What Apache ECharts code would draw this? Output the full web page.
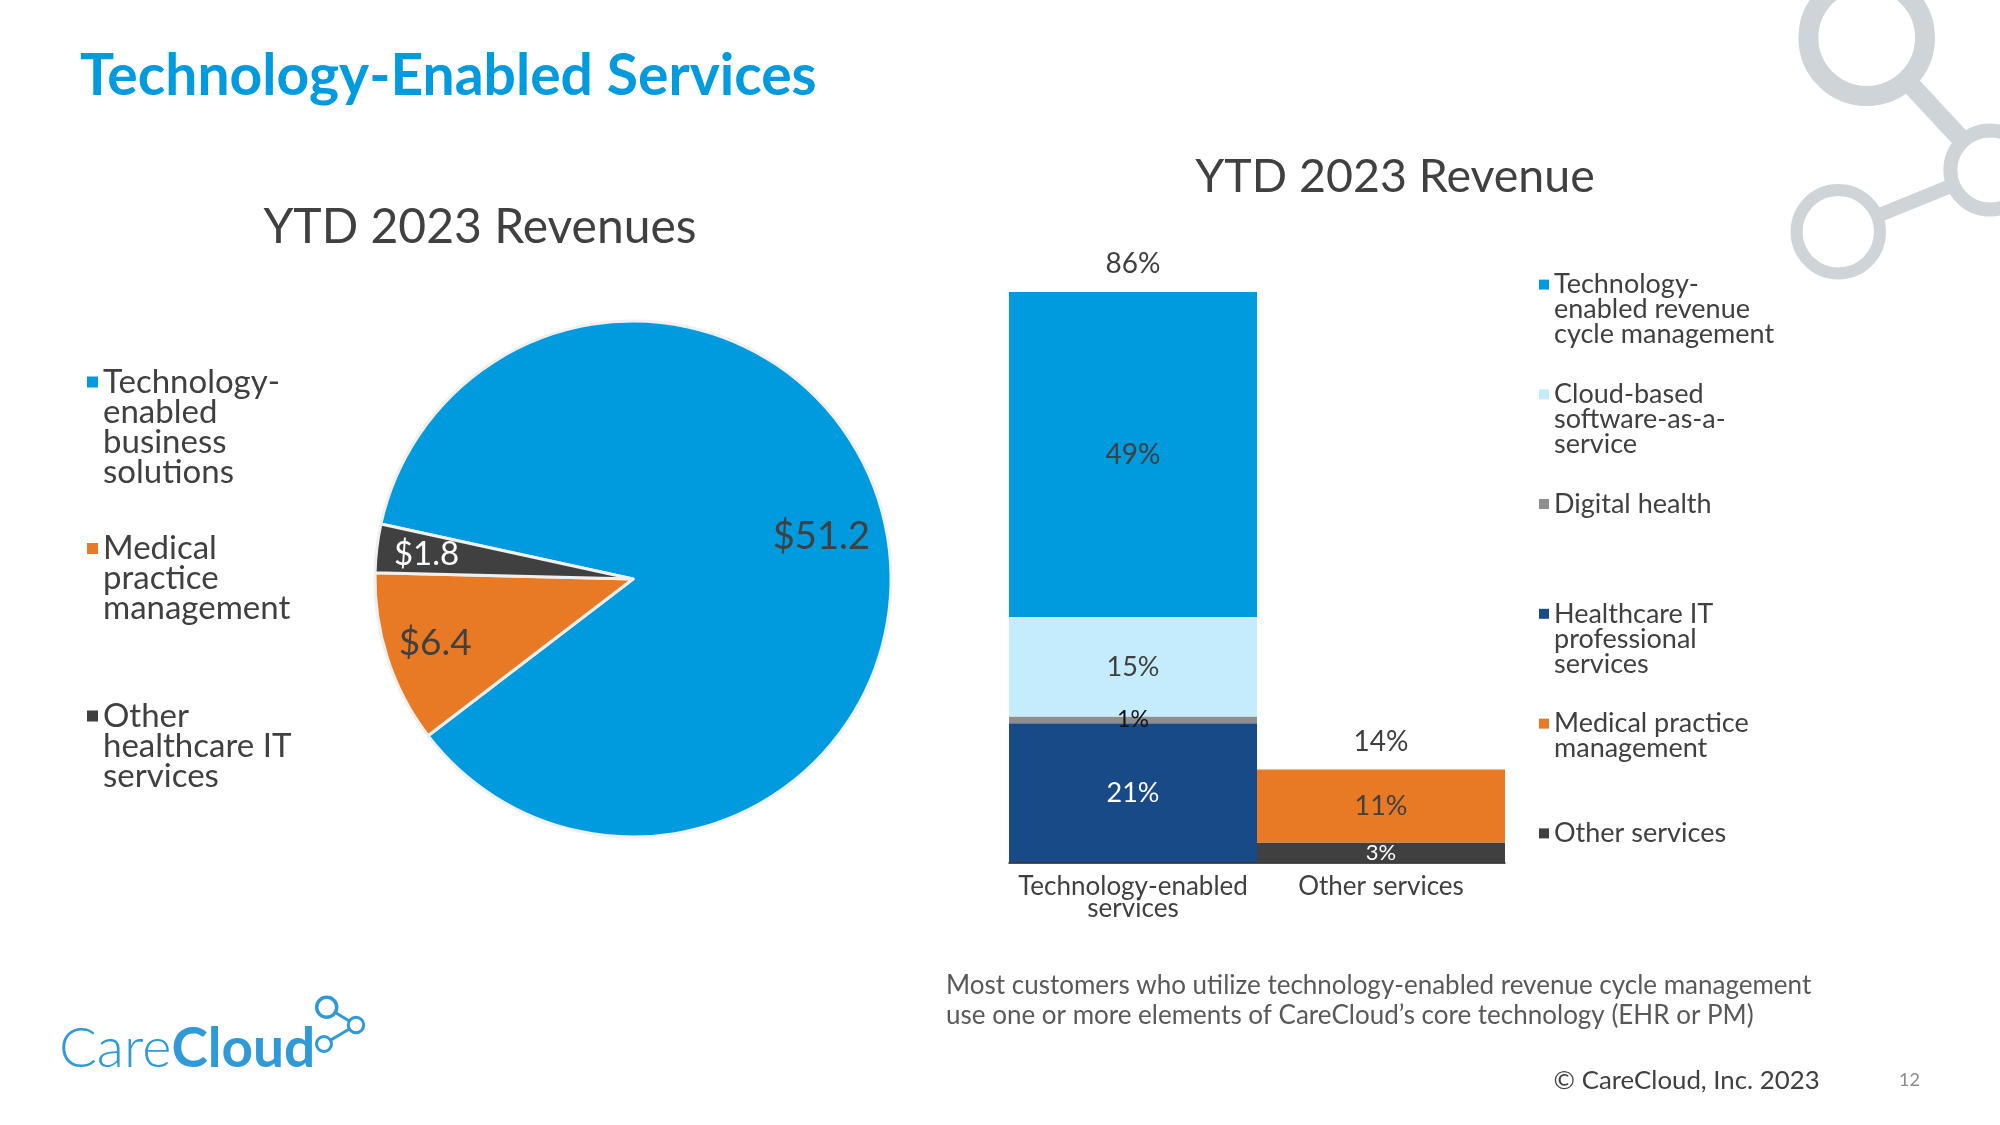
<!DOCTYPE html>
<html><head><meta charset="utf-8">
<script src="https://cdn.jsdelivr.net/npm/echarts@6/dist/echarts.min.js"></script>
<style>html,body{margin:0;padding:0;background:#fff}#c{width:2000px;height:1125px}</style>
</head><body><div id="c"></div>
<script>
// ---------------- DATA ----------------
const pieCategories = ['Technology-enabled business solutions', 'Medical practice management', 'Other healthcare IT services'];
const pieValues = [51.2, 6.4, 1.8];
const pieLegendLines = [['Technology-', 'enabled', 'business', 'solutions'], ['Medical', 'practice', 'management'], ['Other', 'healthcare IT', 'services']];

const barCategories = ['Technology-enabled\nservices', 'Other services'];
const barSeriesNames = ['Technology-enabled revenue cycle management', 'Cloud-based software-as-a-service', 'Digital health', 'Healthcare IT professional services', 'Medical practice management', 'Other services'];
const barLegendLines = [['Technology-', 'enabled revenue', 'cycle management'], ['Cloud-based', 'software-as-a-', 'service'], ['Digital health'], ['Healthcare IT', 'professional', 'services'], ['Medical practice', 'management'], ['Other services']];
const rcmValues = [49, null];
const cloudValues = [15, null];
const digitalValues = [1, null];
const hitValues = [21, null];
const medicalValues = [null, 11];
const otherValues = [null, 3];
const barTotals = [86, 14];

// ---------------- STYLE ----------------
const FONT = 'Lato';
const DARK = '#404040';
const pieColors = ['#009BDE', '#E87A25', '#404040'];
const pieLabelColors = ['#404040', '#404040', '#ffffff'];
const pieLabelSizes = [38, 37, 33];
const barStyle = {
  'Technology-enabled revenue cycle management': { color: '#009BDE', label: '#404040', size: 28 },
  'Cloud-based software-as-a-service': { color: '#C4ECFC', label: '#404040', size: 27 },
  'Digital health': { color: '#8E8E8E', label: '#111111', size: 23 },
  'Healthcare IT professional services': { color: '#174A86', label: '#ffffff', size: 27 },
  'Medical practice management': { color: '#E87A25', label: '#404040', size: 27 },
  'Other services': { color: '#404040', label: '#ffffff', size: 22 }
};

const chart = echarts.init(document.getElementById('c'));

// stack order bottom -> top
const stackOrder = [
  [barSeriesNames[3], hitValues],
  [barSeriesNames[2], digitalValues],
  [barSeriesNames[1], cloudValues],
  [barSeriesNames[0], rcmValues],
  [barSeriesNames[5], otherValues],
  [barSeriesNames[4], medicalValues]
];

const barSeries = stackOrder.map(([name, vals]) => ({
  type: 'bar', name, stack: 'rev', data: vals,
  barWidth: '100%', barGap: '-100%',
  itemStyle: { color: barStyle[name].color },
  label: {
    show: true, position: 'inside', formatter: p => p.value + '%',
    color: barStyle[name].label, fontFamily: FONT, fontSize: barStyle[name].size, lineHeight: barStyle[name].size
  },
  emphasis: { disabled: true }, silent: true, z: 2
}));

barSeries.push({
  type: 'bar', name: 'Total', data: barTotals,
  barWidth: '100%', barGap: '-100%',
  itemStyle: { color: 'rgba(0,0,0,0)' },
  label: {
    show: true, position: 'top', distance: 14, formatter: p => p.value + '%',
    color: DARK, fontFamily: FONT, fontSize: 28, lineHeight: 28
  },
  emphasis: { disabled: true }, silent: true, z: 1
});

// Each legend item is its own legend so the icon sits beside the first text line:
// blank lines are put before the text so that the first real line is centred on the icon.
function legendFor(name, lines, color, left, y1, lh, size, icon) {
  const n = lines.length;
  const pad = new Array(n - 1).fill(' ');
  return {
    data: [{ name, itemStyle: { color, borderWidth: 0 } }],
    left, top: y1 - (2 * n - 1) * lh / 2,
    orient: 'vertical', padding: 0, itemWidth: icon, itemHeight: icon, icon: 'rect',
    selectedMode: false,
    formatter: () => pad.concat(lines).join('\n'),
    textStyle: { fontFamily: FONT, fontSize: size, lineHeight: lh, color: DARK }
  };
}

const pieLegendY = [380.5, 547, 714.5];
const barLegendY = [283.6, 393.3, 503, 612.8, 722.6, 832.4];
const legends = [];
pieCategories.forEach((n, i) => legends.push(legendFor(n, pieLegendLines[i], pieColors[i], 87, pieLegendY[i], 30, 33, 11)));
barSeriesNames.forEach((n, i) => legends.push(legendFor(n, barLegendLines[i], barStyle[n].color, 1539, barLegendY[i], 25, 27, 10)));

// decorative molecule graphics
const ringColor = '#CED4D7';
const bigRings = [{ cx: 1866.7, cy: 37.7, r: 58.3, w: 20 }, { cx: 1990, cy: 170, r: 39.6, w: 14 }, { cx: 1838.3, cy: 231.7, r: 41.7, w: 12 }];
const bigLinks = [[0, 1, 19], [2, 1, 14]];
const logoColor = '#2F9AD7';
const logoRings = [{ cx: 326.7, cy: 1007.3, r: 10, w: 3.5 }, { cx: 356, cy: 1025, r: 7.7, w: 3 }, { cx: 324, cy: 1044, r: 7.5, w: 3 }];
const logoLinks = [[0, 1, 3], [1, 2, 3]];

function molecule(rings, links, color) {
  const els = [];
  links.forEach(([a, b, w]) => {
    const A = rings[a], B = rings[b];
    const dx = B.cx - A.cx, dy = B.cy - A.cy, d = Math.hypot(dx, dy);
    const ux = dx / d, uy = dy / d;
    els.push({ type: 'line', silent: true, shape: { x1: A.cx + ux * A.r, y1: A.cy + uy * A.r, x2: B.cx - ux * B.r, y2: B.cy - uy * B.r }, style: { stroke: color, lineWidth: w } });
  });
  rings.forEach(R => els.push({ type: 'circle', silent: true, shape: { cx: R.cx, cy: R.cy, r: R.r }, style: { fill: null, stroke: color, lineWidth: R.w } }));
  return els;
}

const graphics = [].concat(
  molecule(bigRings, bigLinks, ringColor),
  molecule(logoRings, logoLinks, logoColor),
  [{
    type: 'text', silent: true, x: 59, y: 1049,
    style: {
      text: '{a|Care}{b|Cloud}', verticalAlign: 'middle', align: 'left',
      rich: {
        a: { fontFamily: FONT, fontSize: 56, fontWeight: 300, fill: logoColor },
        b: { fontFamily: FONT, fontSize: 55, fontWeight: 700, fill: logoColor }
      }
    }
  }]
);

// pie label overlays: transparent rings whose middle radius places each inside label
function pieLabelOverlay(name, r0, shownIdx) {
  return {
    type: 'pie', name, center: [633, 579], radius: [r0, 258], startAngle: 167.7, clockwise: true,
    data: pieCategories.map((n, i) => ({
      name: n, value: pieValues[i],
      label: { show: shownIdx.indexOf(i) >= 0, color: pieLabelColors[i], fontSize: pieLabelSizes[i] }
    })),
    itemStyle: { color: 'rgba(0,0,0,0)', borderWidth: 0 },
    label: { position: 'inside', formatter: p => '$' + p.value.toFixed(1), fontFamily: FONT, fontSize: 36 },
    labelLine: { show: false },
    emphasis: { disabled: true }, silent: true, z: 3
  };
}

const option = {
  animation: false,
  backgroundColor: '#ffffff',
  title: [
    { text: 'Technology-Enabled Services', left: 80, top: 76.3, textAlign: 'left', textVerticalAlign: 'middle', padding: 0,
      textStyle: { fontFamily: FONT, fontWeight: 700, fontSize: 57, color: '#009BDE' } },
    { text: 'YTD 2023 Revenues', left: 480, top: 228, textAlign: 'center', textVerticalAlign: 'middle', padding: 0,
      textStyle: { fontFamily: FONT, fontWeight: 400, fontSize: 48, color: DARK } },
    { text: 'YTD 2023 Revenue', left: 1395, top: 176.7, textAlign: 'center', textVerticalAlign: 'middle', padding: 0,
      textStyle: { fontFamily: FONT, fontWeight: 400, fontSize: 46.5, color: DARK } },
    { text: 'Most customers who utilize technology-enabled revenue cycle management\nuse one or more elements of CareCloud\u2019s core technology (EHR or PM)',
      left: 946, top: 1000.5, textAlign: 'left', textVerticalAlign: 'middle', padding: 0,
      textStyle: { fontFamily: FONT, fontWeight: 400, fontSize: 26, lineHeight: 29.5, color: '#595959' } },
    { text: '\u00A9 CareCloud, Inc. 2023', left: 1553.6, top: 1080.5, textAlign: 'left', textVerticalAlign: 'middle', padding: 0,
      textStyle: { fontFamily: FONT, fontWeight: 400, fontSize: 25.8, color: DARK } },
    { text: '12', left: 1909.5, top: 1080, textAlign: 'center', textVerticalAlign: 'middle', padding: 0,
      textStyle: { fontFamily: FONT, fontWeight: 400, fontSize: 18, color: '#8C8C8C' } }
  ],
  legend: legends,
  grid: { left: 1009, top: 199.1, width: 496, height: 663.4, containLabel: false },
  xAxis: {
    type: 'category', data: barCategories, z: 5,
    axisLine: { show: true, lineStyle: { color: '#1A1A1A', width: 1.5 } },
    axisTick: { show: false },
    axisLabel: { interval: 0, margin: 13, fontFamily: FONT, fontSize: 26, lineHeight: 22, color: DARK }
  },
  yAxis: { type: 'value', min: 0, max: 100, show: false, splitLine: { show: false } },
  series: [
    {
      type: 'pie', name: 'Revenues', center: [633, 579], radius: 258, startAngle: 167.7, clockwise: true,
      data: pieCategories.map((n, i) => ({ name: n, value: pieValues[i], itemStyle: { color: pieColors[i] } })),
      itemStyle: { borderColor: '#F0F0F0', borderWidth: 3 },
      label: { show: false }, labelLine: { show: false },
      emphasis: { disabled: true }, silent: true, z: 2
    },
    pieLabelOverlay('RevenueLabelsMain', 122, [0]),
    pieLabelOverlay('RevenueLabelsSmall', 152, [1, 2])
  ].concat(barSeries),
  graphic: graphics
};

chart.setOption(option);
</script>
</body></html>
